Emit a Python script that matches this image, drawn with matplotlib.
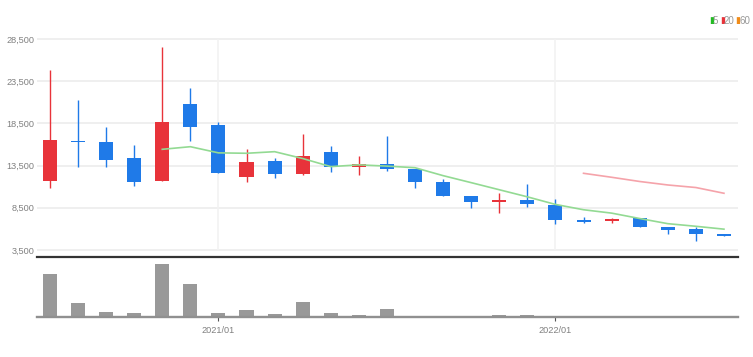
import matplotlib
matplotlib.use("Agg")
import matplotlib.pyplot as plt
import numpy as np
import pandas as pd

months = ['2020/07', '2020/08', '2020/09', '2020/10', '2020/11', '2020/12',
          '2021/01', '2021/02', '2021/03', '2021/04', '2021/05', '2021/06',
          '2021/07', '2021/08', '2021/09', '2021/10', '2021/11', '2021/12',
          '2022/01', '2022/02', '2022/03', '2022/04', '2022/05', '2022/06',
          '2022/07']
opens = [11650, 16450, 16350, 14450, 11650, 20750, 18300, 12200, 14000, 12450,
         15150, 13300, 13650, 13150, 11500, 9850, 9150, 9400, 8850, 7000,
         6900, 7300, 6200, 5950, 5450]
highs = [24800, 21250, 18050, 16000, 27600, 22750, 18700, 15450, 14450, 17300,
         15850, 14650, 17000, 13150, 11900, 9850, 10200, 11300, 9550, 7450,
         7250, 7300, 6200, 6250, 5450]
lows = [10900, 13350, 13350, 11100, 11650, 16400, 12600, 11600, 12000, 12400,
        12800, 12400, 12900, 10900, 9950, 8500, 7900, 8550, 6600, 6750,
        6650, 6250, 5450, 4550, 5100]
closes = [16550, 16250, 14150, 11500, 18700, 18100, 12600, 13900, 12450, 14650,
          13300, 13650, 13150, 11500, 9950, 9150, 9450, 8950, 7000, 6800,
          7150, 6250, 5900, 5450, 5100]
volumes = [430000, 146000, 57000, 40000, 530000, 330000, 43000, 73000, 30000,
           150000, 40000, 23000, 80000, 13000, 13000, 3000, 26000, 26000,
           13000, 3000, 3000, 3000, 3000, 15000, 3000]
yticks = [3500, 8500, 13500, 18500, 23500, 28500]
xtick_labels = ['2021/01', '2022/01']

UP = '#e8333a'
DOWN = '#1f7ae8'
GRID = '#eeeeee'
FONT = ['Liberation Sans Narrow', 'DejaVu Sans Condensed', 'Liberation Sans', 'DejaVu Sans']

x = np.arange(len(months))
close_s = pd.Series(closes)
ma5 = close_s.rolling(5).mean()
ma20 = close_s.rolling(20).mean()

fig = plt.figure(figsize=(7.53, 3.57), dpi=100)
ax = fig.add_axes([37 / 753, 100 / 357, 701 / 753, 222 / 357])
axv = fig.add_axes([37 / 753, 39.7 / 357, 701 / 753, 58.3 / 357], sharex=ax)

# grid
for t in yticks:
    ax.axhline(t, color=GRID, lw=1.3, zorder=0)
tick_pos = [months.index(m) for m in xtick_labels]
ax.vlines(tick_pos, yticks[0], yticks[-1], color='#f2f2f2', lw=1.2, zorder=0)

# candles
w = 0.5
for i in range(len(months)):
    o, h, l, c = opens[i], highs[i], lows[i], closes[i]
    col = UP if c >= o else DOWN
    ax.vlines(x[i], l, h, color=col, lw=1.0, zorder=2)
    bottom = min(o, c)
    height = max(abs(c - o), 180)
    ax.bar(x[i], height, w, bottom=bottom - (height - abs(c - o)) / 2,
           color=col, edgecolor='none', zorder=3)

ax.plot(x, ma5, color='#93da93', lw=1.2, zorder=4)
ax.plot(x, ma20, color='#f5a3aa', lw=1.2, zorder=4)

ax.set_xlim(-0.46, 24.5)
ax.set_ylim(2671, 28974)
ax.set_yticks(yticks)
ax.set_yticklabels([f'{t:,}' for t in yticks], family=FONT, fontsize=6.6,
                   color='#808080')
ax.tick_params(axis='y', length=0, pad=2)
ax.tick_params(axis='x', bottom=False, labelbottom=False)
for s in ['top', 'right', 'left']:
    ax.spines[s].set_visible(False)
ax.spines['bottom'].set_color('#333333')
ax.spines['bottom'].set_linewidth(1.6)

# volume
axv.bar(x, volumes, 0.5, color='#999999', edgecolor='none', zorder=2)
axv.set_ylim(0, 583000)
axv.set_yticks([])
for s in ['top', 'right', 'left']:
    axv.spines[s].set_visible(False)
axv.spines['bottom'].set_color('#909090')
axv.spines['bottom'].set_linewidth(1.7)
axv.spines['bottom'].set_zorder(3)
axv.set_xticks(tick_pos)
axv.set_xticklabels(xtick_labels, family=FONT, fontsize=6.6, color='#808080')
axv.tick_params(axis='x', length=3, width=0.8, color='#555555', pad=3)

# legend
leg_items = [('5', '#22bb22'), ('20', '#e8333a'), ('60', '#f08c1a')]
xpos = 709
for lab, col in leg_items:
    fig.text(xpos / 753, 1 - 21 / 357, '\u25ae', color=col, fontsize=6.5,
             family='DejaVu Sans', ha='left', va='center')
    fig.text((xpos + 4) / 753, 1 - 21 / 357, lab, color='#999999', fontsize=7,
             family=FONT, ha='left', va='center')
    xpos += 4 + 4 * len(lab) + 3

fig.savefig('out.png', dpi=100)
